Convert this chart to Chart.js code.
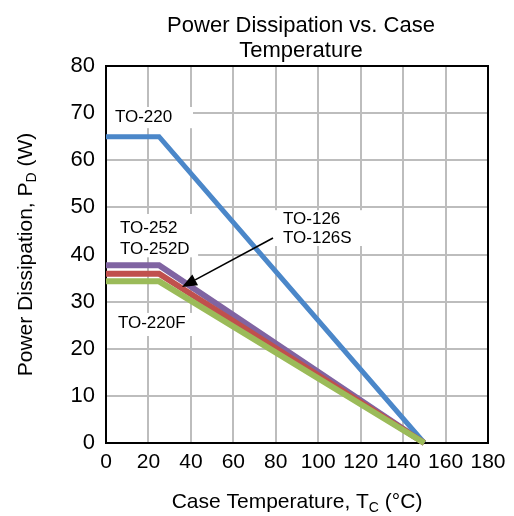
<!DOCTYPE html>
<html>
<head>
<meta charset="utf-8">
<script src="https://cdn.jsdelivr.net/npm/chart.js@4/dist/chart.umd.min.js"></script>
<style>
  html, body { margin: 0; padding: 0; background: #ffffff; }
  #wrap { width: 514px; height: 516px; }
</style>
</head>
<body>
<div id="wrap"><canvas id="c" width="514" height="516"></canvas></div>
<script>
// ---- data ----
const caseTemps = [0, 25, 150];               // °C breakpoints
const to220  = [65, 65, 0];                   // W
const to252  = [37.7, 37.7, 0];               // W (TO-252 / TO-252D)
const to126  = [35.9, 35.9, 0];               // W (TO-126 / TO-126S)
const to220f = [34.3, 34.3, 0];               // W
const xTicks = [0, 20, 40, 60, 80, 100, 120, 140, 160, 180];
const yTicks = [0, 10, 20, 30, 40, 50, 60, 70, 80];
const titleLines = ['Power Dissipation vs. Case', 'Temperature'];

const FONT = '"Liberation Sans", Arial, sans-serif';
const pts = arr => caseTemps.map((x, i) => ({ x: x, y: arr[i] }));

const decorPlugin = {
  id: 'decor',
  beforeDatasetsDraw(chart) {
    const ctx = chart.ctx, xs = chart.scales.x, ys = chart.scales.y, a = chart.chartArea;
    ctx.save();
    // white boxes behind labels (hide grid)
    ctx.fillStyle = '#ffffff';
    const box = (x0, y0, x1, y1) => {
      const px0 = xs.getPixelForValue(x0), px1 = xs.getPixelForValue(x1);
      const py0 = ys.getPixelForValue(y0), py1 = ys.getPixelForValue(y1);
      ctx.fillRect(Math.min(px0, px1), Math.min(py0, py1), Math.abs(px1 - px0), Math.abs(py1 - py0));
    };
    box(0.4, 71.3, 41, 66.8);
    box(0.4, 48.6, 43.4, 39.4);
    box(0.4, 27.6, 42, 22.7);
    box(79.2, 49.4, 122, 41.8);
    // frame
    ctx.strokeStyle = '#000000';
    ctx.lineWidth = 2;
    ctx.strokeRect(a.left, a.top, a.right - a.left, a.bottom - a.top);
    ctx.restore();
  },
  afterDatasetsDraw(chart) {
    const ctx = chart.ctx, xs = chart.scales.x, ys = chart.scales.y, a = chart.chartArea;
    ctx.save();
    ctx.fillStyle = '#000000';
    ctx.font = '17px ' + FONT;
    ctx.textAlign = 'left';
    ctx.textBaseline = 'middle';
    const txt = (s, x, y) => ctx.fillText(s, xs.getPixelForValue(x), ys.getPixelForValue(y));
    txt('TO-220', 4.2, 69.2);
    txt('TO-252', 6.6, 45.6);
    txt('TO-252D', 6.6, 41.2);
    txt('TO-126', 83.4, 47.4);
    txt('TO-126S', 83.4, 43.4);
    txt('TO-220F', 5.6, 25.5);
    // arrow
    const sx = xs.getPixelForValue(78.7), sy = ys.getPixelForValue(43.5);
    const tx = xs.getPixelForValue(35.8), ty = ys.getPixelForValue(33.1);
    const ang = Math.atan2(ty - sy, tx - sx);
    const hl = 15, hw = 6;
    const bx = tx - hl * Math.cos(ang), by = ty - hl * Math.sin(ang);
    ctx.strokeStyle = '#000000';
    ctx.lineWidth = 1.6;
    ctx.beginPath(); ctx.moveTo(sx, sy); ctx.lineTo(bx, by); ctx.stroke();
    ctx.beginPath();
    ctx.moveTo(tx, ty);
    ctx.lineTo(bx + hw * Math.sin(ang), by - hw * Math.cos(ang));
    ctx.lineTo(bx - hw * Math.sin(ang), by + hw * Math.cos(ang));
    ctx.closePath(); ctx.fill();

    // title
    const cx = (a.left + a.right) / 2 + 4;
    ctx.textAlign = 'center';
    ctx.textBaseline = 'alphabetic';
    ctx.font = '22px ' + FONT;
    ctx.fillText(titleLines[0], cx, 32);
    ctx.fillText(titleLines[1], cx, 57);

    // axis titles with subscripts
    const drawSub = (parts, x, y) => {
      let total = 0;
      parts.forEach(p => { ctx.font = (p[1] ? '14px ' : '21px ') + FONT; total += ctx.measureText(p[0]).width; });
      let cur = x - total / 2;
      ctx.textAlign = 'left';
      parts.forEach(p => {
        ctx.font = (p[1] ? '14px ' : '21px ') + FONT;
        ctx.fillText(p[0], cur, p[1] ? y + 4 : y);
        cur += ctx.measureText(p[0]).width;
      });
    };
    drawSub([['Case Temperature, T', false], ['C', true], [' (°C)', false]], (a.left + a.right) / 2, 508);
    ctx.save();
    ctx.translate(32, (a.top + a.bottom) / 2);
    ctx.rotate(-Math.PI / 2);
    drawSub([['Power Dissipation, P', false], ['D', true], [' (W)', false]], 0, 0);
    ctx.restore();
    ctx.restore();
  }
};

const ds = (label, arr, color, w) => ({
  label: label, data: pts(arr), borderColor: color, backgroundColor: color,
  borderWidth: w, pointRadius: 0, tension: 0, clip: false,
  borderJoinStyle: 'miter', borderCapStyle: 'butt'
});

new Chart(document.getElementById('c'), {
  type: 'line',
  data: {
    datasets: [
      ds('TO-220F', to220f, '#9BBB59', 6),
      ds('TO-126/TO-126S', to126, '#C0504D', 6),
      ds('TO-220', to220, '#4B87C9', 5),
      ds('TO-252/TO-252D', to252, '#8064A2', 6)
    ]
  },
  options: {
    responsive: false,
    devicePixelRatio: 1,
    animation: false,
    layout: { padding: { top: 66, right: 26, left: 0, bottom: 0 } },
    plugins: { legend: { display: false }, tooltip: { enabled: false }, title: { display: false } },
    scales: {
      x: {
        type: 'linear', min: 0, max: 180,
        afterFit(s) { s.height = 73; },
        afterBuildTicks(s) { s.ticks = xTicks.map(v => ({ value: v })); },
        grid: { color: '#bdbdbd', lineWidth: 2, drawTicks: false },
        border: { display: false },
        ticks: { color: '#000', font: { family: FONT, size: 21 }, padding: 7, maxRotation: 0, autoSkip: false }
      },
      y: {
        type: 'linear', min: 0, max: 80,
        afterFit(s) { s.width = 106; },
        afterBuildTicks(s) { s.ticks = yTicks.map(v => ({ value: v })); },
        grid: { color: '#bdbdbd', lineWidth: 2, drawTicks: false },
        border: { display: false },
        ticks: { color: '#000', font: { family: FONT, size: 22 }, padding: 11 }
      }
    }
  },
  plugins: [decorPlugin]
});
</script>
</body>
</html>
